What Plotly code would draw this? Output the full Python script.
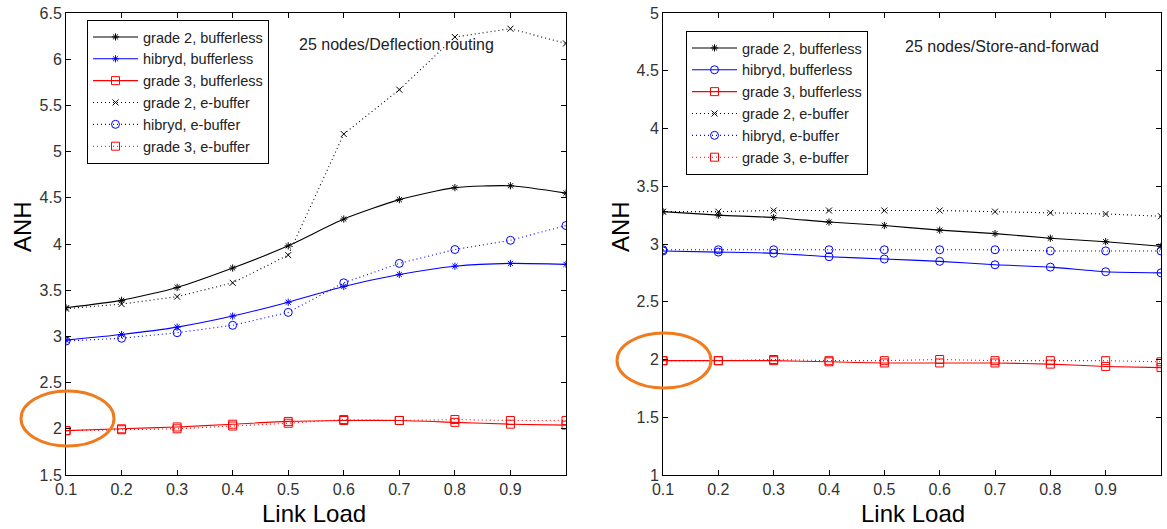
import plotly.graph_objects as go

load = [0.1, 0.2, 0.3, 0.4, 0.5, 0.6, 0.7, 0.8, 0.9, 1.0]

# Left: 25 nodes / Deflection routing
L_g2_bl = [3.31, 3.39, 3.53, 3.74, 3.98, 4.27, 4.48, 4.61, 4.63, 4.55]
L_hy_bl = [2.96, 3.02, 3.10, 3.22, 3.37, 3.54, 3.67, 3.76, 3.79, 3.78]
L_g3_bl = [1.98, 2.00, 2.02, 2.05, 2.08, 2.09, 2.09, 2.07, 2.05, 2.04]
L_g2_eb = [3.30, 3.35, 3.43, 3.58, 3.88, 5.19, 5.67, 6.24, 6.33, 6.17]
L_hy_eb = [2.95, 2.98, 3.04, 3.12, 3.26, 3.58, 3.79, 3.94, 4.04, 4.20]
L_g3_eb = [1.98, 1.99, 2.00, 2.03, 2.06, 2.10, 2.09, 2.10, 2.09, 2.09]

# Right: 25 nodes / Store-and-forward
R_g2_bl = [3.28, 3.25, 3.23, 3.19, 3.16, 3.12, 3.09, 3.05, 3.02, 2.98]
R_hy_bl = [2.94, 2.93, 2.92, 2.89, 2.87, 2.85, 2.82, 2.80, 2.76, 2.75]
R_g3_bl = [1.99, 1.99, 1.99, 1.98, 1.97, 1.97, 1.97, 1.96, 1.94, 1.93]
R_g2_eb = [3.28, 3.28, 3.29, 3.29, 3.29, 3.29, 3.28, 3.27, 3.26, 3.24]
R_hy_eb = [2.95, 2.95, 2.95, 2.95, 2.95, 2.95, 2.95, 2.94, 2.94, 2.94]
R_g3_eb = [1.99, 1.99, 2.00, 1.99, 1.99, 2.00, 1.99, 1.99, 1.99, 1.98]

names = ["grade 2, bufferless", "hibryd, bufferless", "grade 3, bufferless",
         "grade 2, e-buffer", "hibryd, e-buffer", "grade 3, e-buffer"]
x_ticks = [0.1, 0.2, 0.3, 0.4, 0.5, 0.6, 0.7, 0.8, 0.9]
x_tick_text = ["0.1", "0.2", "0.3", "0.4", "0.5", "0.6", "0.7", "0.8", "0.9"]
yL_ticks = [1.5, 2, 2.5, 3, 3.5, 4, 4.5, 5, 5.5, 6, 6.5]
yR_ticks = [1, 1.5, 2, 2.5, 3, 3.5, 4, 4.5, 5]

FONT = "Liberation Sans, Arial, sans-serif"
W, H = 1167, 529

def px_x(p):
    return p / W

def px_y(p):
    return 1 - p / H

fig = go.Figure()

def add(x, y, name, color, symbol, dash, xa, ya, leg, spline, msize):
    fig.add_trace(go.Scatter(
        x=x, y=y, name=name, mode="lines+markers",
        line=dict(color=color, width=1.1, dash=dash,
                  shape="spline" if spline else "linear", smoothing=0.6),
        marker=dict(symbol=symbol, size=msize, color=color,
                    line=dict(color=color, width=1)),
        xaxis=xa, yaxis=ya, legend=leg))

left_series = [L_g2_bl, L_hy_bl, L_g3_bl, L_g2_eb, L_hy_eb, L_g3_eb]
right_series = [R_g2_bl, R_hy_bl, R_g3_bl, R_g2_eb, R_hy_eb, R_g3_eb]
colors = ["black", "blue", "red", "black", "blue", "red"]
dashes = ["solid", "solid", "solid", "1px,3px", "1px,3px", "1px,3px"]
left_sym = ["asterisk-open", "asterisk-open", "square-open", "x-thin-open", "circle-open", "square-open"]
right_sym = ["asterisk-open", "circle-open", "square-open", "x-thin-open", "circle-open", "square-open"]
left_size = [6, 6, 8, 6, 8, 8]
right_size = [6, 8, 8, 6, 8, 8]
spl = [True, True, True, False, False, False]

for s, n, c, d, sy, sz, sp in zip(left_series, names, colors, dashes, left_sym, left_size, spl):
    add(load, s, n, c, sy, d, "x", "y", "legend", sp, sz)
for s, n, c, d, sy, sz, sp in zip(right_series, names, colors, dashes, right_sym, right_size, spl):
    add(load, s, n, c, sy, d, "x2", "y2", "legend2", sp, sz)

axis_common = dict(showline=True, linecolor="black", linewidth=1, mirror="ticks",
                   ticks="inside", ticklen=5, tickcolor="black", showgrid=False,
                   zeroline=False, automargin=False, ticklabeloverflow="allow",
                   tickfont=dict(family=FONT, size=16, color="#333"))

leg_common = dict(xanchor="left", yanchor="top", bordercolor="black", borderwidth=1,
                  bgcolor="white", font=dict(family=FONT, size=14.5, color="#222"),
                  tracegroupgap=0, itemwidth=45)

fig.update_layout(
    width=W, height=H, paper_bgcolor="white", plot_bgcolor="white",
    margin=dict(l=0, r=0, t=0, b=0, autoexpand=False),
    font=dict(family=FONT, color="black"),
    xaxis=dict(domain=[px_x(66), px_x(566)], range=[0.1, 1.0], tickvals=x_ticks,
               ticktext=x_tick_text, anchor="y", **axis_common),
    yaxis=dict(domain=[px_y(475), px_y(13)], range=[1.5, 6.5], tickvals=yL_ticks,
               anchor="x", **axis_common),
    xaxis2=dict(domain=[px_x(663), px_x(1161)], range=[0.1, 1.0], tickvals=x_ticks,
                ticktext=x_tick_text, anchor="y2", **axis_common),
    yaxis2=dict(domain=[px_y(475), px_y(13)], range=[1, 5], tickvals=yR_ticks,
                anchor="x2", **axis_common),
    legend=dict(x=px_x(87), y=px_y(20), **leg_common),
    legend2=dict(x=px_x(686), y=px_y(31), **leg_common),
    showlegend=True,
)

annots = [
    dict(text="25 nodes/Deflection routing", x=px_x(297), y=px_y(44)),
    dict(text="25 nodes/Store-and-forwad", x=px_x(903), y=px_y(47)),
]
for a in annots:
    fig.add_annotation(xref="paper", yref="paper", xanchor="left", yanchor="middle",
                       showarrow=False, font=dict(family=FONT, size=16, color="#222"), **a)

for xc in [px_x(314), px_x(913)]:
    fig.add_annotation(text="Link Load", xref="paper", yref="paper", x=xc, y=px_y(513),
                       xanchor="center", yanchor="middle", showarrow=False,
                       font=dict(family=FONT, size=24, color="black"))
for xc in [px_x(22), px_x(620)]:
    fig.add_annotation(text="ANH", xref="paper", yref="paper", x=xc, y=px_y(227),
                       xanchor="center", yanchor="middle", showarrow=False, textangle=-90,
                       font=dict(family=FONT, size=24, color="black"))

orange = "#F07A1E"
fig.add_shape(type="circle", xref="paper", yref="paper",
              x0=px_x(21), x1=px_x(114), y0=px_y(446), y1=px_y(391),
              line=dict(color=orange, width=3), layer="above")
fig.add_shape(type="circle", xref="paper", yref="paper",
              x0=px_x(617), x1=px_x(711), y0=px_y(388), y1=px_y(333),
              line=dict(color=orange, width=3), layer="above")

fig.write_html("out.html", config={"displayModeBar": False},
               post_script="document.body.style.margin='0';document.body.style.overflow='hidden';")
